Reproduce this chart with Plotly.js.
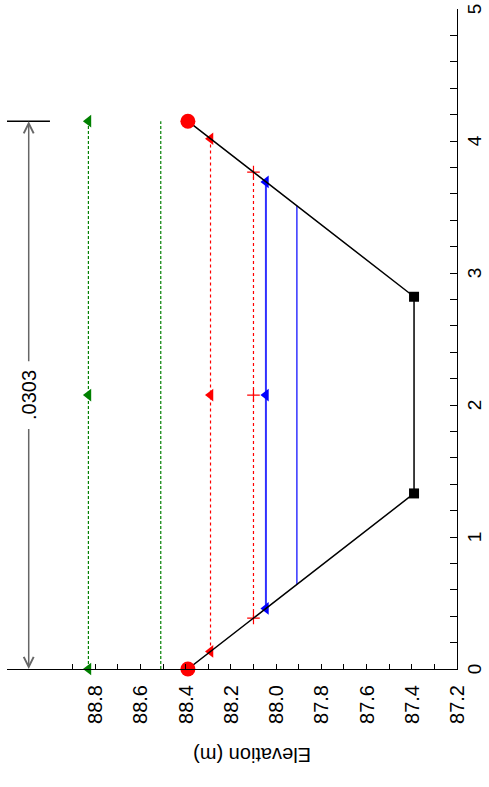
<!DOCTYPE html>
<html>
<head>
<meta charset="utf-8">
<script src="https://cdn.plot.ly/plotly-3.0.1.min.js"></script>
<style>
  html, body { margin: 0; padding: 0; width: 489px; height: 787px; overflow: hidden; background: #fff; }
  #chart { position: absolute; left: 0; top: 0; width: 787px; height: 489px;
           transform-origin: 0 0; transform: translate(0px, 787px) rotate(-90deg); }
</style>
</head>
<body>
<div id="chart"></div>
<script>
// ---- data ----
const groundStation = [0, 1.33, 2.82, 4.15];
const groundElev = [88.39, 87.39, 87.39, 88.39];

const levelElev  = [88.83, 88.51, 88.29, 88.10, 88.045, 87.908];
const levelStart = [0, 0, 0.133, 0.386, 0.459, 0.641];
const levelEnd   = [4.15, 4.15, 4.017, 3.764, 3.69, 3.509];
const midStation = 2.075;

const dimStart = 0;
const dimEnd = 4.15;
const dimElev = 89.094;
const dimBarLow = 89.0;
const dimBarHigh = 89.19;
const dimLabel = '.0303';

const elevTickLabels = ['87.2','87.4','87.6','87.8','88.0','88.2','88.4','88.6','88.8'];
const stationTickLabels = ['0','1','2','3','4','5'];

// ---- styles ----
const FONT = 'Liberation Sans, Arial, Helvetica, sans-serif';
const green = '#008000', red = '#ff0000', blue = '#0000ff';

const tri = c => ({symbol: 'triangle-up', size: 11, color: c, opacity: 1, line: {width: 0}});
const levelStyles = [
  {line: {color: green, width: 1.2, dash: '3px,2px'}, marker: tri(green), mid: true},
  {line: {color: green, width: 1.2, dash: '3px,2px'}, marker: null, mid: false},
  {line: {color: red, width: 1.2, dash: 'dot'}, marker: tri(red), mid: true},
  {line: {color: red, width: 1.2, dash: 'dot'}, marker: {symbol: 'cross-thin-open', size: 9, color: red, opacity: 1, line: {color: red, width: 1.2}}, mid: true},
  {line: {color: '#3030ff', width: 2}, marker: tri(blue), mid: true},
  {line: {color: blue, width: 1.2}, marker: null, mid: false}
];

const traces = [];
levelElev.forEach((el, i) => {
  const s = levelStyles[i];
  const xs = s.mid ? [levelStart[i], midStation, levelEnd[i]] : [levelStart[i], levelEnd[i]];
  const tr = {
    x: xs, y: xs.map(() => el), type: 'scatter',
    mode: s.marker ? 'lines+markers' : 'lines',
    line: s.line, hoverinfo: 'skip', showlegend: false, cliponaxis: false
  };
  if (s.marker) tr.marker = s.marker;
  traces.push(tr);
});

const isEnd = i => i === 0 || i === groundStation.length - 1;
traces.push({
  x: groundStation, y: groundElev, type: 'scatter', mode: 'lines+markers',
  line: {color: '#000', width: 1.5},
  marker: {
    symbol: groundStation.map((_, i) => isEnd(i) ? 'circle' : 'square'),
    size: groundStation.map((_, i) => isEnd(i) ? 15 : 10),
    color: groundStation.map((_, i) => isEnd(i) ? red : '#000'),
    opacity: 1, line: {width: 0}
  },
  hoverinfo: 'skip', showlegend: false, cliponaxis: false
});

// minor ticks for elevation axis
const elevMinor = [];
for (let k = 0; k <= 17; k++) elevMinor.push(+(87.2 + k * 0.1).toFixed(1));

const gapHalf = 0.245;

const layout = {
  width: 787, height: 489,
  margin: {l: 118, r: 9, t: 7, b: 32},
  paper_bgcolor: '#fff', plot_bgcolor: '#fff',
  font: {family: FONT, size: 20, color: '#000'},
  xaxis: {
    range: [0, 5], showgrid: false, zeroline: false, showline: true,
    linecolor: '#000', linewidth: 1,
    tickvals: stationTickLabels.map(Number), ticktext: stationTickLabels,
    ticks: 'inside', ticklen: 7, tickcolor: '#000', tickwidth: 1,
    minor: {dtick: 0.2, ticks: 'inside', ticklen: 7, tickcolor: '#000', tickwidth: 1, showgrid: false},
    tickfont: {size: 19, family: FONT}, ticklabelstandoff: 0, ticklabeloverflow: 'allow',
    automargin: false, fixedrange: true
  },
  yaxis: {
    range: [87.2, 89.19], showgrid: false, zeroline: false, showline: true,
    linecolor: '#000', linewidth: 1,
    tickvals: elevTickLabels.map(Number), ticktext: elevTickLabels,
    ticks: 'inside', ticklen: 5, tickcolor: '#000', tickwidth: 1,
    minor: {tickvals: elevMinor, ticks: 'inside', ticklen: 5, tickcolor: '#000', tickwidth: 1, showgrid: false},
    tickfont: {size: 20, family: FONT}, ticklabelstandoff: 11, ticklabeloverflow: 'allow',
    automargin: false, fixedrange: true
  },
  shapes: [
    {type: 'line', xref: 'x', yref: 'y', x0: dimEnd, x1: dimEnd, y0: dimBarLow, y1: dimBarHigh,
     line: {color: '#000', width: 1.5}}
  ],
  annotations: [
    {x: dimStart, y: dimElev, xref: 'x', yref: 'y', ax: midStation - gapHalf, ay: dimElev,
     axref: 'x', ayref: 'y', text: '', showarrow: true, arrowhead: 5, arrowsize: 1.3,
     arrowwidth: 1.5, arrowcolor: '#666'},
    {x: dimEnd, y: dimElev, xref: 'x', yref: 'y', ax: midStation + gapHalf, ay: dimElev,
     axref: 'x', ayref: 'y', text: '', showarrow: true, arrowhead: 5, arrowsize: 1.3,
     arrowwidth: 1.5, arrowcolor: '#666'},
    {x: midStation, y: dimElev, xref: 'x', yref: 'y', text: dimLabel, showarrow: false,
     font: {size: 20, family: FONT, color: '#000'}, xanchor: 'center', yanchor: 'middle'},
    {x: (32 - 118) / 660, y: (457 - 252) / 450, xref: 'paper', yref: 'paper', text: 'Elevation (m)',
     showarrow: false, textangle: -90, xanchor: 'center', yanchor: 'middle',
     font: {size: 20, family: FONT, color: '#000'}}
  ]
};

Plotly.newPlot('chart', traces, layout, {displayModeBar: false, staticPlot: true});
</script>
</body>
</html>
